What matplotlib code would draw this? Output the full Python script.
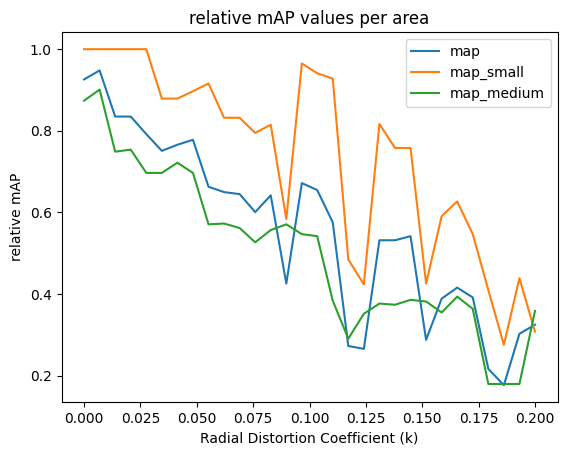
import matplotlib
matplotlib.use("Agg")
import matplotlib.pyplot as plt

# Radial distortion coefficient (30 evenly spaced steps from 0 to 0.2)
k_values = [0.0, 0.0069, 0.0138, 0.0207, 0.0276, 0.0345, 0.0414, 0.0483,
            0.0552, 0.0621, 0.0690, 0.0759, 0.0828, 0.0897, 0.0966, 0.1034,
            0.1103, 0.1172, 0.1241, 0.1310, 0.1379, 0.1448, 0.1517, 0.1586,
            0.1655, 0.1724, 0.1793, 0.1862, 0.1931, 0.2]

map_all = [0.926, 0.948, 0.835, 0.835, 0.792, 0.751, 0.766, 0.778,
           0.663, 0.650, 0.645, 0.601, 0.642, 0.426, 0.672, 0.655,
           0.576, 0.273, 0.266, 0.532, 0.532, 0.542, 0.288, 0.389,
           0.416, 0.392, 0.217, 0.177, 0.303, 0.325]

map_small = [1.0, 1.0, 1.0, 1.0, 1.0, 0.879, 0.879, 0.897,
             0.916, 0.832, 0.832, 0.795, 0.815, 0.584, 0.965, 0.941,
             0.928, 0.485, 0.424, 0.817, 0.758, 0.758, 0.426, 0.591,
             0.627, 0.547, 0.41, 0.276, 0.439, 0.308]

map_medium = [0.874, 0.901, 0.749, 0.754, 0.697, 0.697, 0.722, 0.697,
              0.571, 0.573, 0.562, 0.527, 0.557, 0.571, 0.547, 0.542,
              0.384, 0.291, 0.352, 0.377, 0.374, 0.386, 0.382, 0.355,
              0.394, 0.364, 0.180, 0.180, 0.180, 0.359]

fig = plt.figure(figsize=(5.67, 4.55), dpi=100)
ax = fig.add_axes([0.1085, 0.1165, 0.8748, 0.8123])

ax.plot(k_values, map_all, label="map")
ax.plot(k_values, map_small, label="map_small")
ax.plot(k_values, map_medium, label="map_medium")

ax.set_title("relative mAP values per area")
ax.set_xlabel("Radial Distortion Coefficient (k)")
ax.set_ylabel("relative mAP")
ax.legend()

fig.savefig("out.png", dpi=100)
